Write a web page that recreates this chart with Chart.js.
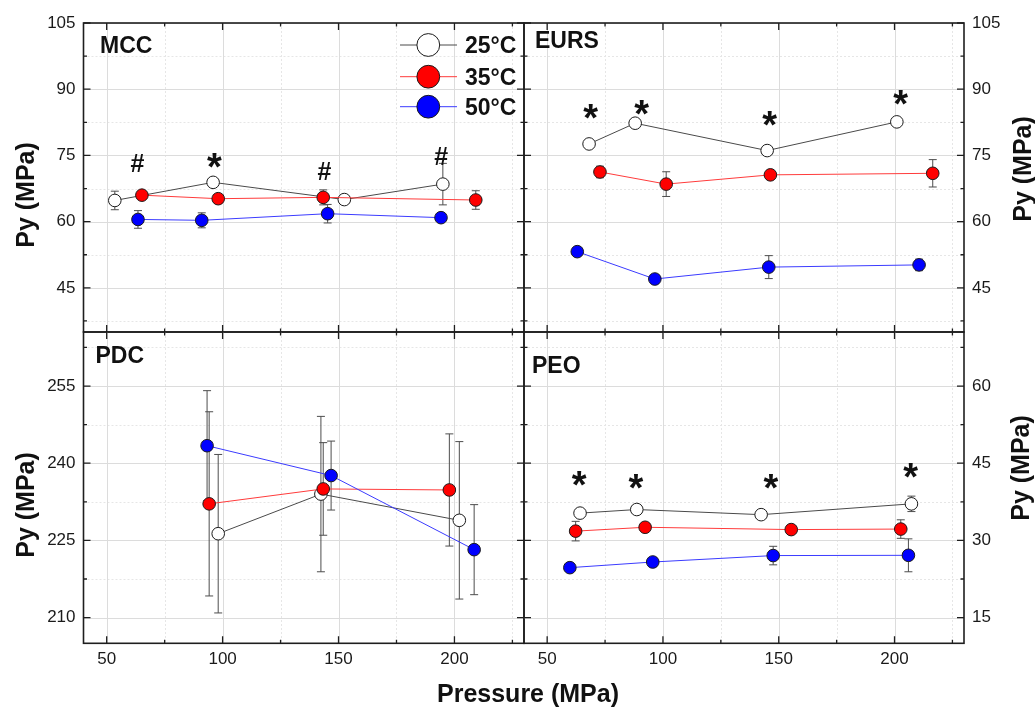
<!DOCTYPE html>
<html>
<head>
<meta charset="utf-8">
<title>Py vs compaction pressure</title>
<script src="https://cdn.jsdelivr.net/npm/chart.js@4.4.1/dist/chart.umd.min.js"></script>
<style>
  html, body { margin: 0; padding: 0; background: #fff; }
  #wrap { position: relative; width: 1035px; height: 707px; overflow: hidden; }
  #wrap canvas { position: absolute; left: 0; top: 0; }
</style>
</head>
<body>
<div id="wrap">
  <canvas id="mcc" width="1035" height="707"></canvas>
  <canvas id="eurs" width="1035" height="707"></canvas>
  <canvas id="pdc" width="1035" height="707"></canvas>
  <canvas id="peo" width="1035" height="707"></canvas>
</div>
<script>
const FONT = "'Liberation Sans', Arial, Helvetica, sans-serif";

const temps = ['25°C', '35°C', '50°C'];

// pressure axis (shared by all panels)
const pressureTicks = [50, 100, 150, 200];
const pressureMinor = [75, 125, 175, 225];

// MCC
const mccTicks = [45, 60, 75, 90, 105];
const mccMinor = [37.5, 52.5, 67.5, 82.5, 97.5];
const mccP25 = [53.5, 95.9, 152.5, 195.0];
const mccPy25 = [64.8, 68.9, 65.0, 68.5];
const mccErr25 = [2.1, 0.8, 0.4, 4.7];
const mccP35 = [65.2, 98.1, 143.4, 209.2];
const mccPy35 = [66.0, 65.2, 65.5, 64.9];
const mccErr35 = [0.5, 0.5, 1.7, 2.1];
const mccP50 = [63.5, 91.0, 145.3, 194.2];
const mccPy50 = [60.5, 60.3, 61.8, 60.9];
const mccErr50 = [2.0, 1.7, 2.1, 0.5];
const mccMarks = ['#', '*', '#', '#'];
const mccMarkP = [63.3, 96.5, 144.0, 194.3];
const mccMarkPy = [73.3, 73.8, 71.4, 74.8];

// EURS
const eursTicks = [45, 60, 75, 90, 105];
const eursMinor = [37.5, 52.5, 67.5, 82.5, 97.5];
const eursP25 = [68.1, 88.0, 145.0, 201.0];
const eursPy25 = [77.6, 82.3, 76.1, 82.6];
const eursErr25 = [0.4, 0.6, 1.0, 0.7];
const eursP35 = [72.8, 101.4, 146.4, 216.5];
const eursPy35 = [71.25, 68.5, 70.6, 70.95];
const eursErr35 = [1.3, 2.8, 0.8, 3.1];
const eursP50 = [63.0, 96.5, 145.7, 210.6];
const eursPy50 = [53.2, 47.0, 49.7, 50.2];
const eursErr50 = [0.5, 0.5, 2.6, 1.3];
const eursMarks = ['*', '*', '*', '*'];
const eursMarkP = [68.8, 90.9, 146.1, 202.7];
const eursMarkPy = [84.9, 85.9, 83.4, 88.1];

// PDC
const pdcTicks = [210, 225, 240, 255];
const pdcMinor = [217.5, 232.5, 247.5, 262.5];
const pdcP25 = [98.1, 142.4, 202.1];
const pdcPy25 = [226.3, 234.0, 228.9];
const pdcErr25 = [15.4, 15.1, 15.3];
const pdcP35 = [94.2, 143.4, 197.8];
const pdcPy35 = [232.1, 235.0, 234.8];
const pdcErr35 = [17.9, 9.0, 10.9];
const pdcP50 = [93.3, 146.8, 208.5];
const pdcPy50 = [243.4, 237.6, 223.2];
const pdcErr50 = [10.7, 6.7, 8.75];

// PEO
const peoTicks = [15, 30, 45, 60];
const peoMinor = [22.5, 37.5, 52.5, 67.5];
const peoP25 = [64.2, 88.7, 142.4, 207.3];
const peoPy25 = [35.3, 36.0, 35.0, 37.1];
const peoErr25 = [0.8, 0.8, 0.3, 1.5];
const peoP35 = [62.3, 92.3, 155.4, 202.7];
const peoPy35 = [31.8, 32.55, 32.1, 32.2];
const peoErr35 = [1.9, 0.6, 0.6, 1.8];
const peoP50 = [59.8, 95.6, 147.6, 206.0];
const peoPy50 = [24.7, 25.8, 27.05, 27.1];
const peoErr50 = [0.5, 0.8, 1.8, 3.2];
const peoMarks = ['*', '*', '*', '*'];
const peoMarkP = [63.9, 88.4, 146.7, 207.0];
const peoMarkPy = [42.1, 41.5, 41.5, 43.6];

const seriesStyle = [
  { line: '#4a4a4a', fill: '#ffffff' },
  { line: '#ff3b3b', fill: '#ff0000' },
  { line: '#3b3bff', fill: '#0000ff' }
];

function centeredText(ctx, text, x, y) {
  const m = ctx.measureText(text);
  const dx = (m.actualBoundingBoxLeft - m.actualBoundingBoxRight) / 2;
  const dy = (m.actualBoundingBoxAscent - m.actualBoundingBoxDescent) / 2;
  ctx.fillText(text, x + dx, y + dy);
}

function drawLegend(ctx) {
  const rows = [45, 76.7, 106.7];
  ctx.save();
  rows.forEach((ry, i) => {
    ctx.strokeStyle = seriesStyle[i].line;
    ctx.lineWidth = 1;
    ctx.beginPath();
    ctx.moveTo(400, ry);
    ctx.lineTo(457, ry);
    ctx.stroke();
    ctx.beginPath();
    ctx.arc(428.3, ry, 11.4, 0, Math.PI * 2);
    ctx.fillStyle = seriesStyle[i].fill;
    ctx.fill();
    ctx.strokeStyle = '#1a1a1a';
    ctx.stroke();
    ctx.fillStyle = '#111';
    ctx.font = 'bold 23px ' + FONT;
    ctx.textAlign = 'left';
    ctx.textBaseline = 'alphabetic';
    ctx.fillText(temps[i], 465, ry + 8.3);
  });
  ctx.restore();
}

function makePanel(id, p) {
  const framePlugin = {
    id: 'panelFrame',
    beforeDatasetsDraw(chart) {
      const { ctx, chartArea: a, scales: { x, y } } = chart;
      ctx.save();
      ctx.beginPath();
      ctx.rect(a.left, a.top, a.width, a.height);
      ctx.clip();
      // grid
      const vline = (v, major) => {
        const px = Math.round(x.getPixelForValue(v)) + 0.5;
        ctx.strokeStyle = major ? '#dcdcdc' : '#e6e6e6';
        ctx.setLineDash(major ? [] : [2, 2]);
        ctx.beginPath(); ctx.moveTo(px, a.top); ctx.lineTo(px, a.bottom); ctx.stroke();
      };
      const hline = (v, major) => {
        const py = Math.round(y.getPixelForValue(v)) + 0.5;
        ctx.strokeStyle = major ? '#dcdcdc' : '#e6e6e6';
        ctx.setLineDash(major ? [] : [2, 2]);
        ctx.beginPath(); ctx.moveTo(a.left, py); ctx.lineTo(a.right, py); ctx.stroke();
      };
      ctx.lineWidth = 1;
      pressureMinor.forEach(v => vline(v, false));
      p.yMinor.forEach(v => hline(v, false));
      pressureTicks.forEach(v => vline(v, true));
      p.yTicks.forEach(v => hline(v, true));
      ctx.setLineDash([]);
      ctx.restore();

      // error bars, behind the markers
      ctx.save();
      ctx.strokeStyle = '#4d4d4d';
      ctx.lineWidth = 1;
      chart.data.datasets.forEach(ds => {
        ds.data.forEach((pt, j) => {
          const e = ds.errors[j];
          const px = x.getPixelForValue(pt.x);
          const t = y.getPixelForValue(pt.y + e);
          const b = y.getPixelForValue(pt.y - e);
          ctx.beginPath();
          ctx.moveTo(px, t); ctx.lineTo(px, b);
          ctx.moveTo(px - 4, t); ctx.lineTo(px + 4, t);
          ctx.moveTo(px - 4, b); ctx.lineTo(px + 4, b);
          ctx.stroke();
        });
      });
      ctx.restore();
    },
    afterDatasetsDraw(chart) {
      const { ctx, chartArea: a, scales: { x, y } } = chart;
      ctx.save();
      // frame and inward ticks on all four sides
      ctx.strokeStyle = '#1e1e1e';
      ctx.lineWidth = 1.3;
      const xt = (v, len) => {
        const px = x.getPixelForValue(v);
        ctx.beginPath();
        ctx.moveTo(px, a.bottom); ctx.lineTo(px, a.bottom - len);
        ctx.moveTo(px, a.top); ctx.lineTo(px, a.top + len);
        ctx.stroke();
      };
      const yt = (v, len) => {
        const py = y.getPixelForValue(v);
        ctx.beginPath();
        ctx.moveTo(a.left, py); ctx.lineTo(a.left + len, py);
        ctx.moveTo(a.right, py); ctx.lineTo(a.right - len, py);
        ctx.stroke();
      };
      pressureTicks.forEach(v => xt(v, 7));
      pressureMinor.forEach(v => xt(v, 3.5));
      p.yTicks.forEach(v => yt(v, 7));
      p.yMinor.forEach(v => yt(v, 3.5));
      ctx.lineWidth = 1.6;
      ctx.strokeRect(a.left, a.top, a.width, a.height);

      // significance marks
      ctx.fillStyle = '#111';
      (p.marks || []).forEach((m, i) => {
        ctx.font = (m === '*' ? 'bold 38px ' : 'bold 25px ') + FONT;
        centeredText(ctx, m, x.getPixelForValue(p.markP[i]), y.getPixelForValue(p.markPy[i]));
      });

      // panel name
      ctx.font = 'bold 23px ' + FONT;
      ctx.textAlign = 'left';
      ctx.textBaseline = 'alphabetic';
      ctx.fillText(p.name, a.left + p.nameDx, a.top + p.nameDy);

      // y axis title
      ctx.save();
      ctx.translate(p.titleX, p.titleY);
      ctx.rotate(-Math.PI / 2);
      ctx.font = 'bold 25px ' + FONT;
      ctx.textAlign = 'center';
      ctx.fillText('Py (MPa)', 0, 0);
      ctx.restore();

      if (p.xTitle) {
        ctx.font = 'bold 25px ' + FONT;
        ctx.textAlign = 'center';
        ctx.fillText('Pressure (MPa)', 528, 702);
      }
      if (p.legend) drawLegend(ctx);
      ctx.restore();
    }
  };

  const series = [
    [p.p25, p.py25, p.err25],
    [p.p35, p.py35, p.err35],
    [p.p50, p.py50, p.err50]
  ];

  return new Chart(document.getElementById(id), {
    type: 'line',
    data: {
      datasets: series.map(([px, py, err], i) => ({
        label: temps[i],
        data: px.map((v, j) => ({ x: v, y: py[j] })),
        errors: err,
        borderColor: seriesStyle[i].line,
        borderWidth: 1,
        backgroundColor: seriesStyle[i].fill,
        pointBackgroundColor: seriesStyle[i].fill,
        pointBorderColor: '#1a1a1a',
        pointBorderWidth: 1,
        pointRadius: 6.3,
        pointHoverRadius: 6.3,
        tension: 0,
        order: 3 - i,
        clip: false
      }))
    },
    options: {
      responsive: false,
      animation: false,
      events: [],
      layout: { padding: p.padding },
      plugins: { legend: { display: false }, tooltip: { enabled: false } },
      scales: {
        x: {
          type: 'linear',
          position: 'bottom',
          min: 40,
          max: 230,
          display: p.showX,
          grid: { display: false, drawTicks: false },
          border: { display: false },
          ticks: { font: { family: FONT, size: 17 }, color: '#1a1a1a', padding: 6, maxRotation: 0 },
          afterBuildTicks: s => { s.ticks = pressureTicks.map(v => ({ value: v })); },
          afterFit: s => { s.height = p.xHeight; }
        },
        y: {
          type: 'linear',
          position: p.yPos,
          min: p.yMin,
          max: p.yMax,
          grid: { display: false, drawTicks: false },
          border: { display: false },
          ticks: { font: { family: FONT, size: 17 }, color: '#1a1a1a', padding: 8 },
          afterBuildTicks: s => { s.ticks = p.yTicks.map(v => ({ value: v })); },
          afterFit: s => { s.width = p.yWidth; }
        }
      }
    },
    plugins: [framePlugin]
  });
}

makePanel('mcc', {
  name: 'MCC', nameDx: 16.5, nameDy: 30.3,
  yMin: 35, yMax: 105, yTicks: mccTicks, yMinor: mccMinor,
  p25: mccP25, py25: mccPy25, err25: mccErr25,
  p35: mccP35, py35: mccPy35, err35: mccErr35,
  p50: mccP50, py50: mccPy50, err50: mccErr50,
  marks: mccMarks, markP: mccMarkP, markPy: mccMarkPy,
  padding: { left: 0, top: 23, right: 511, bottom: 375 },
  yPos: 'left', yWidth: 83.5, xHeight: 0, showX: false,
  titleX: 34, titleY: 195, legend: true
});

makePanel('eurs', {
  name: 'EURS', nameDx: 11, nameDy: 25.3,
  yMin: 35, yMax: 105, yTicks: eursTicks, yMinor: eursMinor,
  p25: eursP25, py25: eursPy25, err25: eursErr25,
  p35: eursP35, py35: eursPy35, err35: eursErr35,
  p50: eursP50, py50: eursPy50, err50: eursErr50,
  marks: eursMarks, markP: eursMarkP, markPy: eursMarkPy,
  padding: { left: 524, top: 23, right: 0, bottom: 375 },
  yPos: 'right', yWidth: 71, xHeight: 0, showX: false,
  titleX: 1031, titleY: 169
});

makePanel('pdc', {
  name: 'PDC', nameDx: 12, nameDy: 31.3,
  yMin: 205, yMax: 265.5, yTicks: pdcTicks, yMinor: pdcMinor,
  p25: pdcP25, py25: pdcPy25, err25: pdcErr25,
  p35: pdcP35, py35: pdcPy35, err35: pdcErr35,
  p50: pdcP50, py50: pdcPy50, err50: pdcErr50,
  padding: { left: 0, top: 332, right: 511, bottom: 0 },
  yPos: 'left', yWidth: 83.5, xHeight: 63.7, showX: true,
  titleX: 34, titleY: 505, xTitle: true
});

makePanel('peo', {
  name: 'PEO', nameDx: 8, nameDy: 41.3,
  yMin: 10, yMax: 70.5, yTicks: peoTicks, yMinor: peoMinor,
  p25: peoP25, py25: peoPy25, err25: peoErr25,
  p35: peoP35, py35: peoPy35, err35: peoErr35,
  p50: peoP50, py50: peoPy50, err50: peoErr50,
  marks: peoMarks, markP: peoMarkP, markPy: peoMarkPy,
  padding: { left: 524, top: 332, right: 0, bottom: 0 },
  yPos: 'right', yWidth: 71, xHeight: 63.7, showX: true,
  titleX: 1029, titleY: 468
});
</script>
</body>
</html>
